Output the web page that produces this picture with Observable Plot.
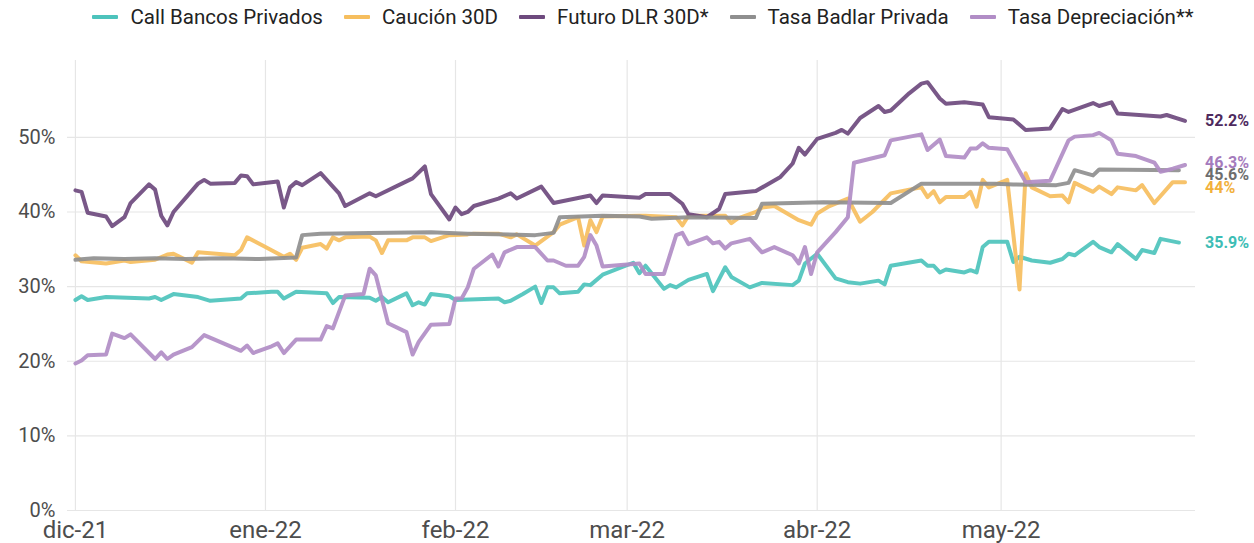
<!DOCTYPE html>
<html><head><meta charset="utf-8">
<script src="https://cdn.jsdelivr.net/npm/d3@7"></script>
<script src="https://cdn.jsdelivr.net/npm/@observablehq/plot@0.6"></script>
<style>
body{margin:0;background:#fff;font-family:Roboto,sans-serif;}
#legend{width:1254px;height:34px;display:flex;justify-content:center;align-items:center;gap:21px;font-size:20.5px;color:#222;padding-left:32px;box-sizing:border-box;}
.item{display:flex;align-items:center;gap:12px;white-space:nowrap}
.sw{width:26px;height:4px;border-radius:1px}
</style></head><body>
<div id="legend"></div><div id="chart"></div>
<script>
// ---- series meta ----
const seriesNames = ["Call Bancos Privados","Caución 30D","Futuro DLR 30D*","Tasa Badlar Privada","Tasa Depreciación**"];
const seriesColors = ["#4DC3BC","#F6BE5E","#6E4A7E","#8F8F8F","#B18DC6"];
const labelColors  = ["#3DBDB5","#F2B13C","#4E2A5E","#6E6E6E","#A57BBD"];
const monthLabels = ["ene","feb","mar","abr","may","jun","jul","ago","sep","oct","nov","dic"];
const yTicks = [0,10,20,30,40,50];

// ---- data: [MM-DD, value %] (Dec = 2021, others 2022) ----
const call = [["12-01",28.2],["12-02",28.7],["12-03",28.2],["12-06",28.6],["12-13",28.4],["12-14",28.6],["12-15",28.2],["12-17",29.0],["12-21",28.6],["12-23",28.1],["12-28",28.4],["12-29",29.1],["01-02",29.3],["01-03",29.3],["01-04",28.4],["01-06",29.3],["01-11",29.1],["01-12",27.8],["01-13",28.6],["01-18",28.5],["01-19",28.1],["01-20",28.6],["01-21",27.9],["01-24",29.1],["01-25",27.5],["01-26",27.9],["01-27",27.6],["01-28",29.0],["01-31",28.7],["02-01",28.2],["02-08",28.4],["02-09",27.9],["02-10",28.1],["02-12",29.0],["02-14",30.0],["02-15",27.8],["02-16",29.9],["02-17",29.9],["02-18",29.1],["02-21",29.3],["02-22",30.3],["02-23",30.2],["02-25",31.6],["03-02",33.2],["03-03",31.8],["03-04",32.8],["03-07",29.7],["03-08",30.2],["03-09",29.9],["03-11",30.9],["03-14",31.7],["03-15",29.4],["03-17",32.6],["03-18",31.3],["03-21",29.9],["03-23",30.5],["03-28",30.2],["03-29",30.8],["03-30",33.1],["04-01",34.4],["04-04",31.1],["04-06",30.6],["04-08",30.4],["04-11",30.8],["04-12",30.3],["04-13",32.8],["04-18",33.5],["04-19",32.8],["04-20",32.8],["04-21",31.9],["04-22",32.3],["04-25",31.9],["04-26",32.2],["04-27",31.9],["04-28",35.3],["04-29",36.0],["05-02",36.0],["05-03",33.3],["05-04",34.0],["05-06",33.5],["05-09",33.2],["05-11",33.7],["05-12",34.4],["05-13",34.2],["05-16",36.0],["05-17",35.3],["05-19",34.6],["05-20",35.7],["05-23",33.7],["05-24",34.9],["05-26",34.5],["05-27",36.4],["05-30",35.9]];

const caucion = [["12-01",34.2],["12-02",33.4],["12-06",33.1],["12-09",33.5],["12-10",33.3],["12-14",33.6],["12-16",34.3],["12-17",34.4],["12-20",33.2],["12-21",34.6],["12-27",34.2],["12-28",34.9],["12-29",36.6],["01-01",35.3],["01-04",34.0],["01-05",34.4],["01-06",33.6],["01-07",35.2],["01-10",35.7],["01-11",35.1],["01-12",36.6],["01-13",36.2],["01-14",36.6],["01-18",36.7],["01-19",36.2],["01-20",34.5],["01-21",36.2],["01-24",36.2],["01-25",36.6],["01-27",36.6],["01-28",36.1],["01-31",36.9],["02-03",37.0],["02-04",37.1],["02-08",37.1],["02-10",36.6],["02-11",37.0],["02-14",35.5],["02-17",37.3],["02-18",38.3],["02-21",39.3],["02-22",35.5],["02-23",38.9],["02-24",37.3],["02-25",39.4],["03-03",39.5],["03-04",39.5],["03-09",39.3],["03-10",38.2],["03-11",39.5],["03-17",39.5],["03-18",38.5],["03-19",39.1],["03-22",40.0],["03-23",40.6],["03-25",40.8],["03-29",38.9],["03-31",38.3],["04-01",39.8],["04-03",40.8],["04-06",41.8],["04-08",38.7],["04-10",40.0],["04-13",42.5],["04-16",43.0],["04-18",43.3],["04-19",42.0],["04-20",42.8],["04-21",41.3],["04-22",42.0],["04-25",42.0],["04-26",42.7],["04-27",40.7],["04-28",44.3],["04-29",43.3],["05-02",44.3],["05-04",29.6],["05-05",45.2],["05-06",43.3],["05-09",42.1],["05-11",42.2],["05-12",41.3],["05-13",43.9],["05-16",42.7],["05-17",43.4],["05-19",42.4],["05-20",43.3],["05-23",42.9],["05-24",43.6],["05-26",41.2],["05-29",44.0],["05-31",44.0]];

const futuro = [["12-01",42.9],["12-02",42.7],["12-03",39.9],["12-06",39.4],["12-07",38.1],["12-09",39.3],["12-10",41.2],["12-13",43.7],["12-14",43.0],["12-15",39.5],["12-16",38.2],["12-17",40.0],["12-21",43.8],["12-22",44.3],["12-23",43.8],["12-27",43.9],["12-28",44.9],["12-29",44.8],["12-30",43.7],["01-03",44.1],["01-04",40.6],["01-05",43.3],["01-06",44.0],["01-07",43.6],["01-10",45.2],["01-13",42.5],["01-14",40.8],["01-18",42.5],["01-19",42.1],["01-25",44.5],["01-27",46.1],["01-28",42.4],["01-31",39.0],["02-01",40.6],["02-02",39.7],["02-03",40.0],["02-04",40.8],["02-08",41.8],["02-10",42.5],["02-11",41.8],["02-15",43.4],["02-17",41.2],["02-23",42.2],["02-24",41.2],["02-25",42.2],["03-03",41.9],["03-04",42.4],["03-08",42.4],["03-10",41.1],["03-11",39.7],["03-14",39.3],["03-16",40.4],["03-17",42.4],["03-22",42.8],["03-26",44.7],["03-28",46.5],["03-29",48.6],["03-30",47.7],["04-01",49.8],["04-04",50.6],["04-05",51.0],["04-06",50.5],["04-08",52.6],["04-11",54.2],["04-12",53.4],["04-13",53.6],["04-16",55.9],["04-18",57.2],["04-19",57.4],["04-21",55.2],["04-22",54.5],["04-25",54.7],["04-28",54.4],["04-29",52.7],["05-03",52.4],["05-05",51.0],["05-09",51.2],["05-11",53.8],["05-12",53.4],["05-16",54.6],["05-17",54.2],["05-19",54.7],["05-20",53.2],["05-27",52.8],["05-28",53.0],["05-31",52.2]];

const badlar = [["12-01",33.6],["12-04",33.8],["12-09",33.7],["12-14",33.8],["12-19",33.7],["12-25",33.8],["12-31",33.7],["01-06",33.9],["01-07",36.9],["01-10",37.1],["01-18",37.2],["01-28",37.3],["02-03",37.1],["02-14",36.9],["02-17",37.2],["02-18",39.3],["02-25",39.5],["03-03",39.4],["03-05",39.1],["03-11",39.3],["03-22",39.2],["03-23",41.1],["04-02",41.3],["04-13",41.2],["04-18",43.8],["04-30",43.8],["05-03",43.7],["05-10",43.6],["05-12",43.9],["05-13",45.6],["05-16",44.9],["05-17",45.7],["05-30",45.6]];

const depreciacion = [["12-01",19.7],["12-02",20.1],["12-03",20.8],["12-06",20.9],["12-07",23.7],["12-09",23.1],["12-10",23.6],["12-14",20.3],["12-15",21.2],["12-16",20.3],["12-17",20.9],["12-20",21.9],["12-22",23.5],["12-28",21.4],["12-29",22.1],["12-30",21.1],["01-02",22.0],["01-03",22.4],["01-04",21.1],["01-06",22.9],["01-10",22.9],["01-11",24.7],["01-12",24.4],["01-14",28.8],["01-17",29.0],["01-18",32.4],["01-19",31.5],["01-21",25.1],["01-24",23.9],["01-25",20.9],["01-26",22.6],["01-28",24.9],["01-31",25.0],["02-01",28.4],["02-02",28.4],["02-03",29.9],["02-04",32.4],["02-07",34.3],["02-08",32.7],["02-09",34.6],["02-11",35.3],["02-14",35.3],["02-16",33.5],["02-17",33.5],["02-19",32.8],["02-21",32.8],["02-22",34.0],["02-23",36.9],["02-24",35.5],["02-25",32.7],["03-03",33.1],["03-04",31.7],["03-07",31.7],["03-09",36.9],["03-10",37.2],["03-11",35.7],["03-14",36.6],["03-15",35.8],["03-16",36.0],["03-17",35.1],["03-18",35.8],["03-21",36.4],["03-23",34.6],["03-25",35.3],["03-28",34.2],["03-29",33.1],["03-30",35.3],["03-31",31.7],["04-01",34.6],["04-04",37.3],["04-06",39.3],["04-07",46.6],["04-12",47.6],["04-13",49.6],["04-18",50.4],["04-19",48.3],["04-21",49.7],["04-22",47.5],["04-25",47.3],["04-26",48.5],["04-27",48.5],["04-28",49.2],["04-29",48.6],["05-02",48.4],["05-05",44.0],["05-09",44.2],["05-10",46.0],["05-12",49.6],["05-13",50.1],["05-16",50.3],["05-17",50.6],["05-19",49.6],["05-20",47.8],["05-23",47.5],["05-26",46.6],["05-27",45.4],["05-29",45.8],["05-31",46.3]];

const seriesData = [call, caucion, futuro, badlar, depreciacion];
const labelNudge = [0, 5.5, 0, 5, -2]; // px vertical nudge for end labels

// ---- build table ----
const parseMD = s => { const [m,d] = s.split("-").map(Number); return new Date(m === 12 ? 2021 : 2022, m-1, d); };
const rows = [];
seriesData.forEach((arr, i) => arr.forEach(([md, v]) => rows.push({series: seriesNames[i], date: parseMD(md), value: v})));
const lastDate = d3.max(rows, d => d.date);
const firstDate = d3.min(rows, d => d.date);
const ends = seriesData.map((arr, i) => ({series: seriesNames[i], i, date: lastDate, value: arr[arr.length-1][1]}));
const monthTicks = d3.timeMonth.range(firstDate, lastDate);
const fmtMonth = d => `${monthLabels[d.getMonth()]}-${String(d.getFullYear()).slice(2)}`;

// ---- legend ----
const legend = document.getElementById("legend");
seriesNames.forEach((n, i) => {
  const it = document.createElement("div"); it.className = "item";
  const sw = document.createElement("div"); sw.className = "sw"; sw.style.background = seriesColors[i];
  const tx = document.createElement("span"); tx.textContent = n;
  it.append(sw, tx); legend.append(it);
});

// ---- chart ----
const chart = Plot.plot({
  width: 1254,
  height: 509,
  marginTop: 26,
  marginBottom: 33,
  marginLeft: 67,
  marginRight: 59,
  style: {fontFamily: "Roboto, sans-serif", background: "#fff", color: "#4d4d4d"},
  x: {type: "time", label: null, domain: [d3.timeHour.offset(firstDate, -31), d3.timeHour.offset(firstDate, Math.round(182.7*24))]},
  y: {label: null, domain: [0, 60.3]},
  color: {domain: seriesNames, range: seriesColors},
  marks: [
    Plot.gridY(yTicks, {stroke: "#e6e6e6", strokeOpacity: 1, strokeWidth: 1.2}),
    Plot.gridX(monthTicks, {stroke: "#e6e6e6", strokeOpacity: 1, strokeWidth: 1.2}),
    Plot.axisY(yTicks, {label: null, tickSize: 0, tickPadding: 12, fontSize: 20, tickFormat: d => d + "%", fill: "#4d4d4d"}),
    Plot.axisX(monthTicks, {label: null, tickSize: 0, tickPadding: 10, fontSize: 24, tickFormat: fmtMonth, fill: "#4d4d4d"}),
    Plot.line(rows, {x: "date", y: "value", z: "series", stroke: "series", strokeWidth: 4, strokeOpacity: 0.92, curve: "linear"}),
    ...ends.map(e => Plot.text([e], {x: "date", y: "value", text: d => `${+d.value.toFixed(1)}%`, fill: labelColors[e.i], dx: 20, dy: labelNudge[e.i], textAnchor: "start", fontWeight: "bold", fontSize: 16}))
  ]
});
document.getElementById("chart").append(chart);
</script>
</body></html>
